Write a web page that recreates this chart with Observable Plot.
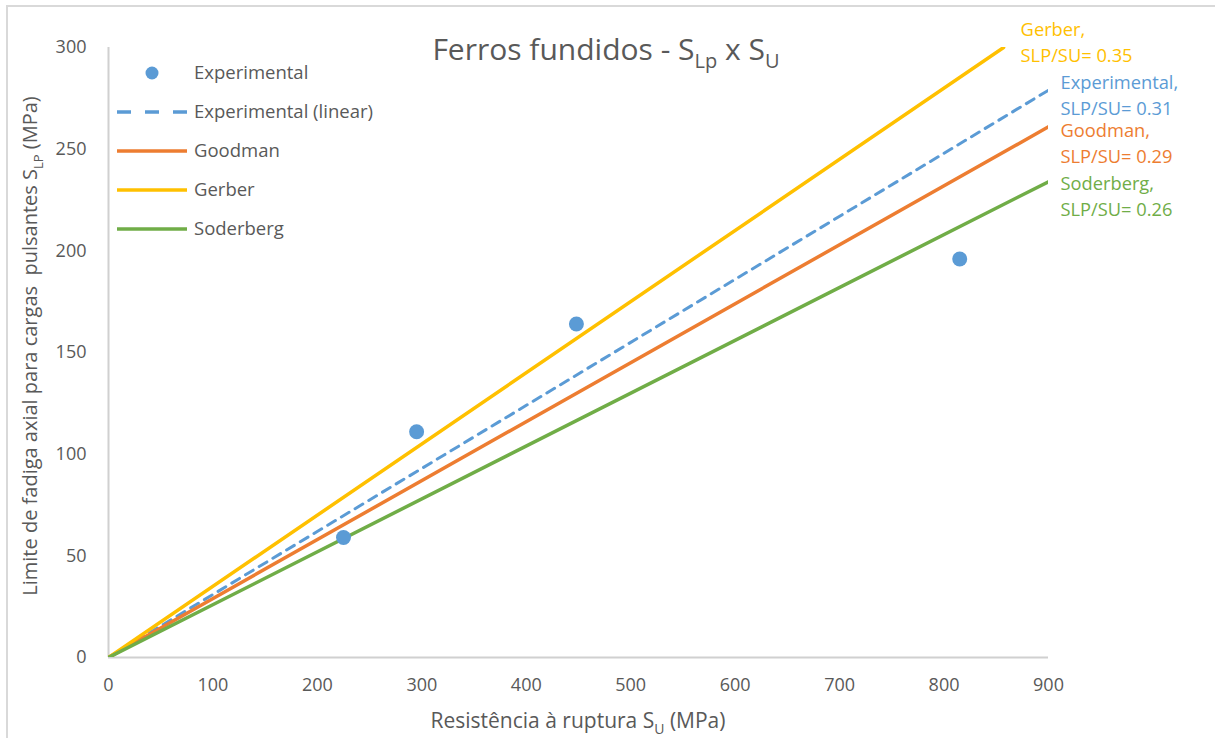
<!DOCTYPE html>
<html>
<head>
<meta charset="utf-8">
<script src="https://cdn.jsdelivr.net/npm/d3@7"></script>
<script src="https://cdn.jsdelivr.net/npm/@observablehq/plot@0.6"></script>
<style>
  body { margin: 0; background: #fff; overflow: hidden; }
  #wrap { position: relative; width: 1215px; height: 738px; overflow: hidden; }
  #frame { position: absolute; left: 6px; top: 5px; width: 1300px; height: 800px; border: 2px solid #d9d9d9; box-sizing: border-box; }
  #chart { position: absolute; left: 0; top: 0; }
</style>
</head>
<body>
<div id="wrap"><div id="frame"></div><div id="chart"></div></div>
<script>
// ---- data ----
const experimentalSU = [225, 295, 448, 815];
const experimentalSLP = [59, 111, 164, 196];

const seriesNames = ["Experimental (linear)", "Goodman", "Gerber", "Soderberg"];
const lineEndSU = [900, 900, 857, 900];
const lineEndSLP = [279, 261, 300, 234];
const seriesRatios = ["0.31", "0.29", "0.35", "0.26"];
const annotationNames = ["Experimental", "Goodman", "Gerber", "Soderberg"];

const xTicks = [0, 100, 200, 300, 400, 500, 600, 700, 800, 900];
const yTicks = [0, 50, 100, 150, 200, 250, 300];

const legendNames = ["Experimental", "Experimental (linear)", "Goodman", "Gerber", "Soderberg"];

// ---- styles ----
const colors = {
  "Experimental": "#5b9bd5",
  "Experimental (linear)": "#5b9bd5",
  "Goodman": "#ed7d31",
  "Gerber": "#ffc000",
  "Soderberg": "#70ad47"
};
const textGrey = "#595959";
const axisGrey = "#d0d0d0";
const font = "'Open Sans', Lato, sans-serif";

// build tables
const lineRows = [];
seriesNames.forEach((s, i) => {
  lineRows.push({series: s, su: 0, slp: 0});
  lineRows.push({series: s, su: lineEndSU[i], slp: lineEndSLP[i]});
});
const pts = experimentalSU.map((d, i) => ({su: d, slp: experimentalSLP[i]}));
const annRows = annotationNames.map((n, i) => ({
  name: n,
  label: n + ",\nSLP/SU= " + seriesRatios[i],
  su: lineEndSU[i],
  slp: lineEndSLP[i],
  color: colors[seriesNames[i]]
}));
const annOffset = {"Experimental": [12, -20], "Goodman": [12, -8], "Gerber": [17, -30], "Soderberg": [12, -10]};

const W = 1215, H = 738;
const marks = [
  Plot.ruleY([0], {stroke: axisGrey, strokeWidth: 2}),
  Plot.ruleX([0], {y1: 0, y2: 300, stroke: axisGrey, strokeWidth: 2}),
  Plot.axisX({ticks: xTicks, tickSize: 0, tickPadding: 21, label: null, fontSize: 18, fill: textGrey, tickFormat: d => String(d)}),
  Plot.axisY({ticks: yTicks, tickSize: 0, tickPadding: 22, label: null, fontSize: 18, fill: textGrey, tickFormat: d => String(d)}),
];
seriesNames.forEach(s => {
  marks.push(Plot.line(lineRows.filter(r => r.series === s), {
    x: "su", y: "slp", stroke: colors[s], strokeWidth: s === "Experimental (linear)" ? 3 : 3.5,
    strokeDasharray: s === "Experimental (linear)" ? "9,7" : null, clip: true
  }));
});
marks.push(Plot.dot(pts, {x: "su", y: "slp", r: 7.5, fill: colors["Experimental"], stroke: "none"}));
annRows.forEach(a => {
  marks.push(Plot.text([a], {
    x: "su", y: "slp", text: "label", fill: a.color, textAnchor: "start", lineAnchor: "top",
    lineHeight: 1.42, fontSize: 18.3, dx: annOffset[a.name][0], dy: annOffset[a.name][1]
  }));
});

const plot = Plot.plot({
  width: W, height: H,
  marginLeft: 108, marginRight: 167, marginTop: 47, marginBottom: 81,
  style: {fontFamily: font, background: "transparent", overflow: "visible"},
  x: {domain: [0, 900]},
  y: {domain: [0, 300]},
  marks
});
document.getElementById("chart").appendChild(plot);

const svg = d3.select(plot);

function subText(g, parts, size, subSize) {
  parts.forEach(p => {
    if (p.sub) {
      g.append("tspan").attr("dy", size * 0.28).attr("font-size", subSize).text(p.t);
    } else {
      const t = g.append("tspan").text(p.t);
      if (p.back) t.attr("dy", -size * 0.28);
    }
  });
}

// title
const title = svg.append("text").attr("x", 606).attr("y", 60).attr("text-anchor", "middle")
  .attr("font-size", 30).attr("fill", textGrey).attr("font-family", font);
subText(title, [{t: "Ferros fundidos - S"}, {t: "Lp", sub: true}, {t: " x S", back: true}, {t: "U", sub: true}], 30, 20);

// x axis title
const xt = svg.append("text").attr("x", 578).attr("y", 728).attr("text-anchor", "middle")
  .attr("font-size", 21).attr("fill", textGrey).attr("font-family", font);
subText(xt, [{t: "Resistência à ruptura S"}, {t: "U", sub: true}, {t: " (MPa)", back: true}], 21, 14);

// y axis title
const yt = svg.append("text").attr("transform", "translate(37,346) rotate(-90)").attr("text-anchor", "middle")
  .attr("font-size", 20).attr("fill", textGrey).attr("font-family", font);
subText(yt, [{t: "Limite de fadiga axial para cargas  pulsantes S"}, {t: "LP", sub: true}, {t: " (MPa)", back: true}], 20, 13);

// legend
const lg = svg.append("g").attr("font-family", font).attr("font-size", 18.5).attr("fill", textGrey).attr("text-anchor", "start");
legendNames.forEach((n, i) => {
  const y = 73 + i * 39;
  if (n === "Experimental") {
    lg.append("circle").attr("cx", 152).attr("cy", y).attr("r", 6.5).attr("fill", colors[n]);
  } else {
    lg.append("line").attr("x1", 117).attr("x2", 187).attr("y1", y).attr("y2", y)
      .attr("stroke", colors[n]).attr("stroke-width", 3.5)
      .attr("stroke-dasharray", n === "Experimental (linear)" ? "14,14" : null);
  }
  lg.append("text").attr("x", 194).attr("y", y).attr("dy", "0.35em").text(n);
});
</script>
</body>
</html>
